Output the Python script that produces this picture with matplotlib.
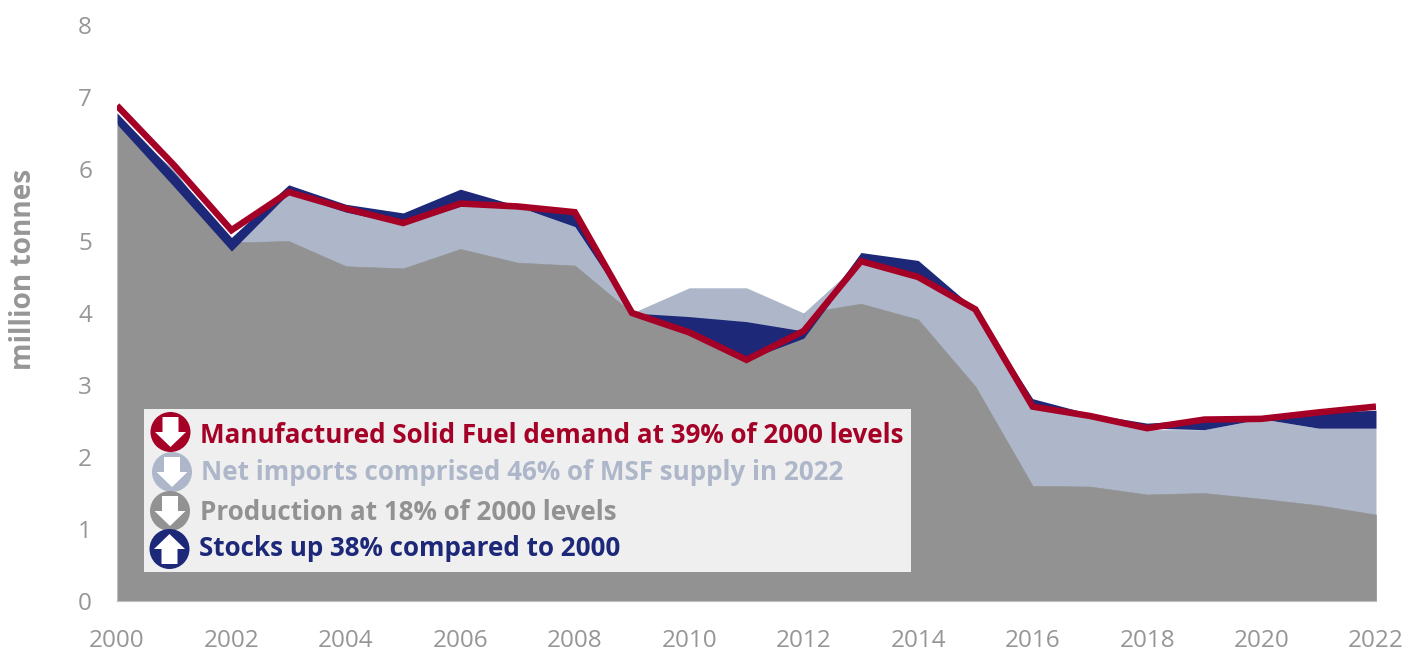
import matplotlib
import matplotlib.pyplot as plt
from matplotlib.patches import Circle, Polygon, Rectangle

matplotlib.use("Agg")

plt.rcParams["font.family"] = ["Open Sans", "DejaVu Sans"]

years = list(range(2000, 2023))
tick_years = list(range(2000, 2023, 2))

demand = [6.88, 6.05, 5.15, 5.68, 5.45, 5.25, 5.52, 5.48, 5.40, 4.00, 3.73, 3.35,
          3.75, 4.72, 4.50, 4.05, 2.70, 2.57, 2.40, 2.52, 2.53, 2.62, 2.70]
production = [6.62, 5.75, 4.98, 5.00, 4.65, 4.62, 4.89, 4.70, 4.66, 4.00, 3.73, 3.35,
              3.65, 4.13, 3.91, 2.98, 1.60, 1.59, 1.48, 1.50, 1.42, 1.33, 1.20]
# production jumps back up right of 2012 where the stacked negative ends
production_2012_right = 4.00
imports_top = [6.62, 6.00, 4.86, 5.66, 5.40, 5.23, 5.48, 5.48, 5.20, 4.00, 4.35, 4.35,
               4.00, 4.72, 4.50, 4.05, 2.68, 2.55, 2.38, 2.38, 2.53, 2.40, 2.40]
stocks_low = [6.62, 5.75, 4.86, 5.66, 5.40, 5.23, 5.48, 5.48, 5.20, 4.00, 3.73, 3.35,
              3.65, 4.72, 4.50, 4.05, 2.68, 2.58, 2.40, 2.38, 2.53, 2.40, 2.40]
stocks_high = [6.78, 5.95, 5.05, 5.78, 5.51, 5.39, 5.72, 5.49, 5.40, 4.00, 3.95, 3.88,
               3.75, 4.84, 4.73, 4.05, 2.81, 2.60, 2.47, 2.52, 2.53, 2.62, 2.65]

legend_labels = [
    "Manufactured Solid Fuel demand at 39% of 2000 levels",
    "Net imports comprised 46% of MSF supply in 2022",
    "Production at 18% of 2000 levels",
    "Stocks up 38% compared to 2000",
]

RED = "#A50026"
LIGHT = "#ADB7C9"
GREY = "#929292"
NAVY = "#1D2878"
TEXT = "#969696"


def add_icon(ax, cx, cy, color, up=False):
    ax.add_patch(Circle((cx, cy), 20, color=color, lw=0))
    s = -1 if up else 1
    shape = [(-8, -15), (8, -15), (8, 0), (15.5, 0), (0, 15), (-15.5, 0), (-8, 0)]
    ax.add_patch(Polygon([(cx + a, cy + s * b) for a, b in shape], color="white", lw=0))


def main() -> None:
    fig = plt.figure(figsize=(14.05, 6.5), dpi=100)
    ax = fig.add_axes([117 / 1405, 1 - 601 / 650, (1376 - 117) / 1405, (601 - 25) / 650])

    ax.fill_between(years, imports_top, color=LIGHT, lw=0)
    right_production = production[12:]
    right_production[0] = production_2012_right
    ax.fill_between(years[:13], production[:13], facecolor=GREY, edgecolor=GREY, lw=0.4)
    ax.fill_between(years[12:], right_production, facecolor=GREY, edgecolor=GREY, lw=0.4)
    # keep the imports colour above the demand line just right of 2012
    ax.fill_between(years[12:14], demand[12:14], imports_top[12:14], color=LIGHT, lw=0)
    ax.fill_between(years, stocks_low, stocks_high, color=NAVY, lw=0)
    ax.plot(years, demand, color=RED, lw=4.7, solid_joinstyle="miter", solid_capstyle="butt")

    ax.set_xlim(2000, 2022)
    ax.set_ylim(0, 8)
    ax.set_xticks(tick_years)
    ax.set_yticks(range(0, 9))
    ax.tick_params(length=0, labelsize=17.5, labelcolor=TEXT)
    ax.tick_params(axis="x", pad=20)
    ax.tick_params(axis="y", pad=18)
    for side in ["top", "right"]:
        ax.spines[side].set_visible(False)
    ax.spines["left"].set_color("#BFBFBF")
    ax.spines["left"].set_bounds(0, production[0])
    ax.spines["bottom"].set_color("#BFBFBF")

    # overlay in image pixels for the text box and axis title
    over = fig.add_axes([0, 0, 1, 1])
    over.set_xlim(0, 1405)
    over.set_ylim(650, 0)
    over.axis("off")
    over.text(24, 269, "million tonnes", color=TEXT, fontsize=20.2, fontweight="bold",
              rotation=90, va="center", ha="center")
    over.add_patch(Rectangle((144, 409), 767, 163, color="#EFEFEF", lw=0))
    rows = [(170.5, 432, 200, 435.5, RED, False),
            (172, 472, 201, 473, LIGHT, False),
            (170, 511, 200, 513, GREY, False),
            (169.5, 549, 199, 549, NAVY, True)]
    for label, (cx, cy, tx, ty, color, up) in zip(legend_labels, rows):
        add_icon(over, cx, cy, color, up)
        over.text(tx, ty, label, color=color, fontsize=18.7, fontweight="bold", va="center", ha="left")

    fig.savefig("out.png", dpi=100)
    plt.close(fig)


if __name__ == "__main__":
    main()
